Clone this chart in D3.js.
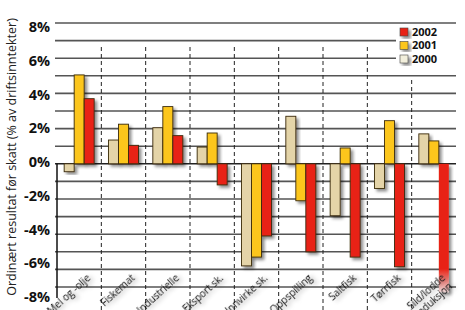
<!DOCTYPE html>
<html lang="en">
<head>
    <meta charset="UTF-8">
    <title>Ordinært resultat før skatt</title>
    <script src="https://d3js.org/d3.v7.min.js"></script>
    <style>
        body {
            margin: 0;
            padding: 0;
            background: #fff;
        }
        svg {
            display: block;
            font-family: "Open Sans", "Noto Sans", sans-serif;
        }
    </style>
</head>
<body>
    <svg width="465" height="310"></svg>

    <script>
        // data, % of operating income
        const categories = ["Mel og -olje", "Fiskemat", "Industrielle", "Eksport sk.", "Innvirke sk.",
            "Oppspilling", "Saltfisk", "Tørrfisk", "Sild/lodde produksjon"];
        const years = ["2000", "2001", "2002"];
        const values2000 = [-0.45, 1.35, 2.05, 0.95, -5.8, 2.7, -2.95, -1.4, 1.7];
        const values2001 = [5.05, 2.25, 3.25, 1.75, -5.3, -2.1, 0.9, 2.45, 1.3];
        const values2002 = [3.7, 1.05, 1.6, -1.2, -4.1, -5.0, -5.3, -5.85, -7.3];
        const gridTicks = [8, 7, 6, 5, 4, 3, 2, 1, 0, -1, -2, -3, -4, -5, -6, -7];
        const tickLabels = [8, 6, 4, 2, 0, -2, -4, -6, -8];

        const colors = { "2000": "#e4d4a8", "2001": "#fcc61e", "2002": "#e82418" };
        const series = { "2000": values2000, "2001": values2001, "2002": values2002 };

        const svg = d3.select("svg");

        const x = d3.scaleBand().domain(categories).range([57, 456]);
        const xSub = d3.scaleBand().domain(years).range([0, 30]);
        const y = d3.scaleLinear().domain([-7, 8]).range([287, 23]);
        // labels in the picture sit on a slightly different spacing than the grid
        const yLabel = d3.scaleLinear().domain([-8, 8]).range([297, 27]);

        const defs = svg.append("defs");
        const shadow = defs.append("filter").attr("id", "shadow")
            .attr("x", "-30%").attr("y", "-30%").attr("width", "180%").attr("height", "160%");
        shadow.append("feDropShadow")
            .attr("dx", 2.5).attr("dy", 2.5).attr("stdDeviation", 1.5)
            .attr("flood-color", "#000").attr("flood-opacity", 0.45);

        const textShadow = defs.append("filter").attr("id", "tshadow")
            .attr("x", "-20%").attr("y", "-50%").attr("width", "140%").attr("height", "200%");
        textShadow.append("feDropShadow")
            .attr("dx", 2).attr("dy", 3).attr("stdDeviation", 2)
            .attr("flood-color", "#000").attr("flood-opacity", 0.35);

        const fade = defs.append("linearGradient").attr("id", "fade")
            .attr("x1", 0).attr("y1", 0).attr("x2", 0).attr("y2", 1);
        fade.append("stop").attr("offset", "0.82").attr("stop-color", colors["2002"]);
        fade.append("stop").attr("offset", "1").attr("stop-color", "#fbe3e3");

        // gridlines
        svg.append("g")
            .selectAll("line")
            .data(gridTicks)
            .join("line")
            .attr("x1", 55)
            .attr("x2", 456)
            .attr("y1", d => y(d))
            .attr("y2", d => y(d))
            .attr("stroke", d => d === 0 ? "#222" : "#555")
            .attr("stroke-width", 1.6);

        // left axis line (lower part)
        svg.append("line")
            .attr("x1", 57).attr("x2", 57)
            .attr("y1", y(0)).attr("y2", 298)
            .attr("stroke", "#111").attr("stroke-width", 1.5);

        // dashed separators between groups
        svg.append("g")
            .selectAll("line")
            .data(categories.slice(1))
            .join("line")
            .attr("x1", d => x(d))
            .attr("x2", d => x(d))
            .attr("y1", (d, i) => i === categories.length - 2 ? 80 : 47)
            .attr("y2", 310)
            .attr("stroke", "#222")
            .attr("stroke-width", 1)
            .attr("stroke-dasharray", "4,3");

        // bars
        const groups = svg.append("g")
            .selectAll("g")
            .data(categories)
            .join("g")
            .attr("transform", d => `translate(${x(d) + (x.bandwidth() - 30) / 2},0)`);

        groups.selectAll("rect")
            .data((c, i) => years.map(yr => ({ year: yr, value: series[yr][i], idx: i })))
            .join("rect")
            .attr("x", d => xSub(d.year))
            .attr("y", d => y(Math.max(0, d.value)))
            .attr("width", xSub.bandwidth())
            .attr("height", d => Math.abs(y(d.value) - y(0)))
            .attr("fill", d => (d.year === "2002" && d.idx === categories.length - 1) ? "url(#fade)" : colors[d.year])
            .attr("stroke", d => (d.year === "2002" && d.idx === categories.length - 1) ? "none" : "#3a2a0a")
            .attr("stroke-width", 0.9)
            .attr("filter", "url(#shadow)");

        // y tick labels
        svg.append("g")
            .selectAll("text")
            .data(tickLabels)
            .join("text")
            .attr("x", 50)
            .attr("y", d => yLabel(d))
            .attr("dy", "0.36em")
            .attr("text-anchor", "end")
            .attr("font-size", 14.5)
            .attr("font-weight", "bold")
            .attr("fill", "#111")
            .text(d => d + "%");

        // y axis title
        svg.append("text")
            .attr("transform", "translate(16,157) rotate(-90)")
            .attr("text-anchor", "middle")
            .attr("font-size", 12.5)
            .attr("fill", "#222")
            .text("Ordinært resultat før skatt (% av driftsinntekter)");

        // category labels, cut by the bottom edge as in the picture
        const catLabels = svg.append("g")
            .selectAll("text")
            .data(categories)
            .join("text")
            .attr("transform", d => `translate(${x(d) + x.bandwidth() / 2 + 12},279) rotate(-42)`)
            .attr("text-anchor", "end")
            .attr("font-size", 10)
            .attr("fill", "#111")
            .attr("filter", "url(#tshadow)");

        catLabels.each(function(d) {
            const parts = d === "Sild/lodde produksjon" ? ["Sild/lodde", "produksjon"] : [d];
            d3.select(this).selectAll("tspan")
                .data(parts)
                .join("tspan")
                .attr("x", 0)
                .attr("dy", (p, i) => i === 0 ? 0 : "1.1em")
                .text(p => p);
        });

        // legend
        const legend = svg.append("g");
        legend.append("rect")
            .attr("x", 396).attr("y", 27).attr("width", 62).attr("height", 42)
            .attr("fill", "#fff");
        const legendYears = ["2002", "2001", "2000"];
        const ly = d3.scalePoint().domain(legendYears).range([32, 59]);
        const items = legend.selectAll("g")
            .data(legendYears)
            .join("g")
            .attr("transform", d => `translate(400,${ly(d)})`);
        items.append("rect")
            .attr("x", 0).attr("y", -4).attr("width", 8).attr("height", 8)
            .attr("fill", d => d === "2000" ? "#f2efdc" : colors[d])
            .attr("stroke", "#444").attr("stroke-width", 0.6)
            .attr("filter", "url(#shadow)");
        items.append("text")
            .attr("x", 12).attr("dy", "0.36em")
            .attr("font-size", 11)
            .attr("font-weight", "bold")
            .attr("fill", "#111")
            .text(d => d);
    </script>
</body>
</html>
